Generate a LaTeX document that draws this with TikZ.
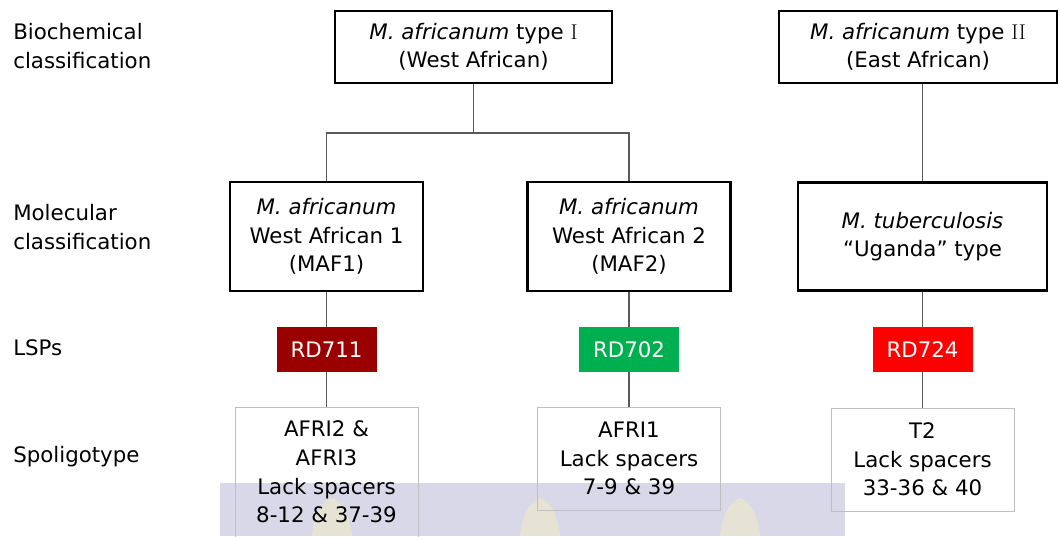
\documentclass[tikz,border=0pt]{standalone}
\usepackage{fontspec}
\setmainfont{DejaVu Sans}
\usepackage{xcolor}
\definecolor{rdmaroon}{RGB}{155,0,0}
\definecolor{rdgreen}{RGB}{0,176,80}
\definecolor{rdred}{RGB}{255,0,0}
\definecolor{linkgray}{RGB}{89,89,89}
\definecolor{spolgray}{RGB}{191,191,191}
\definecolor{wmblue}{RGB}{129,129,184}
\definecolor{wmyellow}{RGB}{240,236,200}
\newcommand{\txtsize}{\fontsize{16}{21.4}\selectfont}
\newcommand{\typenum}[1]{{\fontspec{Latin Modern Roman}#1}}

\begin{document}
\begin{tikzpicture}[x=0.75pt,y=-0.75pt,
	classbox/.style={draw=black,line width=1.8pt,align=center,font=\txtsize,inner sep=0pt},
	lspbox/.style={align=center,font=\txtsize,text=white,inner sep=0pt,minimum width=75pt,minimum height=33.75pt},
	spolbox/.style={draw=spolgray,line width=0.7pt,align=center,font=\txtsize,inner sep=0pt,minimum width=137.25pt},
	rowlabel/.style={anchor=west,align=left,font=\txtsize,inner sep=0pt},
	link/.style={draw=linkgray,line width=1pt}]
		\useasboundingbox (0,0) rectangle (1059,536);
		% watermark band
		\fill[wmblue,opacity=0.31] (220,483) rectangle (845,536);
		\foreach \fx in {332,540,740}
			\fill[wmyellow,opacity=0.6] (\fx-20,536) .. controls (\fx-18,510) and (\fx-6,499) .. (\fx,498)
				.. controls (\fx+6,499) and (\fx+18,510) .. (\fx+20,536) -- cycle;
		% row labels
		\node[rowlabel] (biolbl) at (13,46) {Biochemical\\classification};
		\node[rowlabel] (mollbl) at (13,227) {Molecular\\classification};
		\node[rowlabel] (lsplbl) at (13,348) {LSPs};
		\node[rowlabel] (spollbl) at (13,457) {Spoligotype};
		% biochemical
		\node[classbox,minimum width=207.75pt,minimum height=54pt] (typeI) at (473.5,47)
			{\textit{M. africanum} type \typenum{I}\\(West African)};
		\node[classbox,minimum width=208.5pt,minimum height=54pt] (typeII) at (918,47)
			{\textit{M. africanum} type \typenum{II}\\(East African)};
		% molecular
		\node[classbox,minimum width=144.75pt,minimum height=81.75pt] (maf1) at (326.5,236.5)
			{\textit{M. africanum}\\West African 1\\(MAF1)};
		\node[classbox,minimum width=152.25pt,minimum height=81.75pt] (maf2) at (629,236.5)
			{\textit{M. africanum}\\West African 2\\(MAF2)};
		\node[classbox,minimum width=186.75pt,minimum height=81pt] (uganda) at (922.5,236.5)
			{\textit{M. tuberculosis}\\``Uganda'' type};
		% LSPs
		\node[lspbox,fill=rdmaroon] (rd711) at (326.5,349.5) {RD711};
		\node[lspbox,fill=rdgreen] (rd702) at (629,349.5) {RD702};
		\node[lspbox,fill=rdred] (rd724) at (922.5,349.5) {RD724};
		% spoligotypes
		\node[spolbox,minimum height=97.5pt] (spol1) at (326.5,472)
			{AFRI2 \&\\AFRI3\\Lack spacers\\8-12 \& 37-39};
		\node[spolbox,minimum height=77.25pt] (spol2) at (629,458.5)
			{AFRI1\\Lack spacers\\7-9 \& 39};
		\node[spolbox,minimum height=77.25pt] (spol3) at (922.5,459.5)
			{T2\\Lack spacers\\33-36 \& 40};
		% connectors
		\coordinate (split) at (473.5,133);
		\draw[link] (typeI.south) -- (split);
		\draw[link] (maf1.north) |- (split) -| (maf2.north);
		\draw[link] (typeII.south -| uganda.north) -- (uganda.north);
		\draw[link] (maf1.south) -- (rd711.north);
		\draw[link] (maf2.south) -- (rd702.north);
		\draw[link] (uganda.south) -- (rd724.north);
		\draw[link] (rd711.south) -- (spol1.north);
		\draw[link] (rd702.south) -- (spol2.north);
		\draw[link] (rd724.south) -- (spol3.north);
	\end{tikzpicture}
\end{document}
